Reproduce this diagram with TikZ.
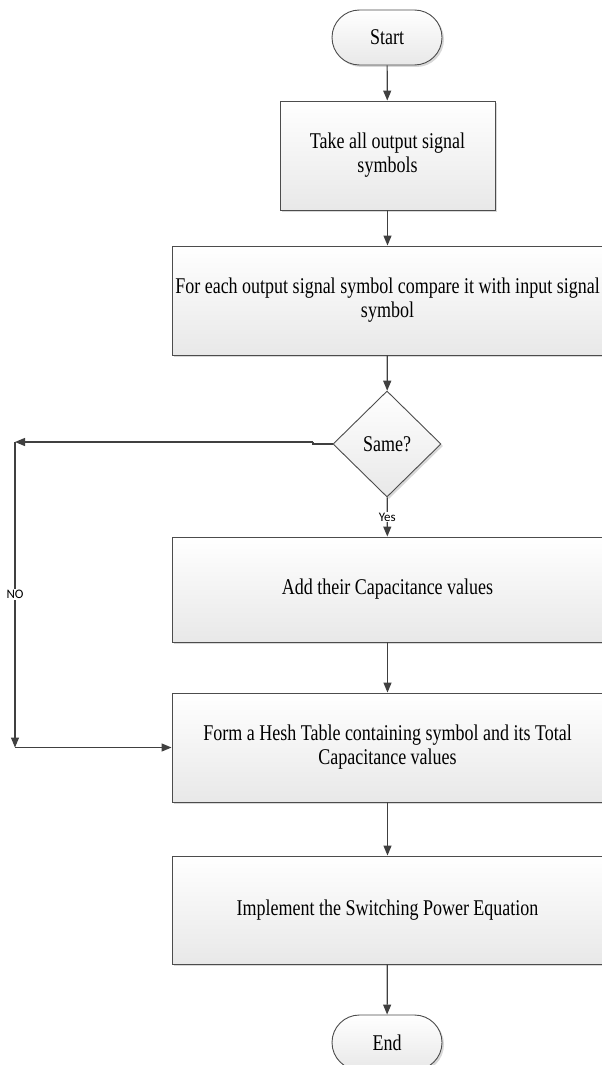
\documentclass[tikz,border=0pt]{standalone}
\usepackage{fontspec}
\setmainfont{Liberation Serif}[FakeStretch=0.8]
\newfontfamily\labelfont{Carlito}
\usetikzlibrary{shapes.geometric,shapes.misc,arrows.meta,shadows}

\begin{document}
\begin{tikzpicture}[x = 1pt, y = -1pt, line width = 1.2pt, draw = black!75,
                      >={Triangle[length=10pt, width=8pt]},
                      shade/.style = {draw = black!70, line width = 0.9pt, top color = white, bottom color = black!9,
                                      drop shadow = {shadow xshift = 2pt, shadow yshift = -2pt, fill = black!30, opacity = 0.5},
                                      align = center, inner sep = 0pt, font = \fontsize{22.5}{24}\selectfont},
                      box/.style = {shade, rectangle, minimum width = 431pt, minimum height = 108pt},
                      term/.style = {shade, rounded rectangle, minimum width = 110pt, minimum height = 55pt},
                      decide/.style = {shade, diamond, aspect = 1, minimum width = 108pt, minimum height = 106pt},
                      tag/.style = {fill = white, inner sep = 1pt, font = \labelfont\fontsize{13}{13}\selectfont}]
    \useasboundingbox (0, 0) rectangle (602, 1065);

    \node [term] (start) at (387, 37.5){Start};
    \node [box, minimum width = 215pt, minimum height = 109pt] (take) at (387.5, 155.5){Take all output signal\\symbols};
    \node [box, minimum height = 109pt] (comp) at (387.5, 300.5){For each output signal symbol compare it with input signal\\symbol};
    \node [decide] (same) at (387, 444){Same?};
    \node [box, minimum height = 105pt] (add) at (387.5, 589.5){Add their Capacitance values};
    \node [box, minimum height = 109pt] (form) at (387.5, 747.5){Form a Hesh Table containing symbol and its Total\\Capacitance values};
    \node [box] (impl) at (387.5, 910){Implement the Switching Power Equation};
    \node [term] (stop) at (387, 1042.5){End};

    \coordinate (jog) at (313, 442);
    \coordinate (nocorner) at (15, 442);
    \coordinate (noend) at (15, 747.5);

    \draw[->] (start) -- (take);
    \draw[->] (take) -- (comp);
    \draw[->] (comp) -- (same);
    \draw[->] (same) -- node[tag]{Yes} (add);
    \draw[->] (add) -- (form);
    \draw[->] (form) -- (impl);
    \draw[->] (impl) -- (stop);

    \draw (same.west) -- (same.west -| jog) -- (jog);
    \draw[->] (jog) -- (nocorner);
    \draw[->] (nocorner) -- node[tag]{NO} (noend);
    \draw[->] (noend) -- (form.west);
\end{tikzpicture}
\end{document}
